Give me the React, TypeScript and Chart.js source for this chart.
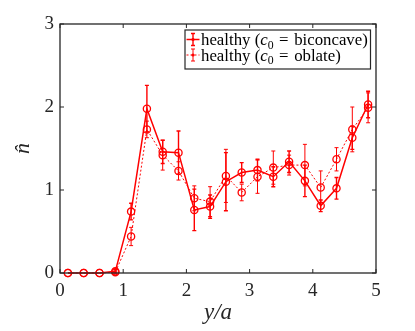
import React, { useEffect, useRef } from "react";
import { Chart, registerables } from "chart.js";

Chart.register(...registerables);

// ---- data ----
const xPositions = [0.125, 0.375, 0.625, 0.875, 1.125, 1.375, 1.625, 1.875, 2.125, 2.375, 2.625, 2.875, 3.125, 3.375, 3.625, 3.875, 4.125, 4.375, 4.625, 4.875];
const biconcaveValues = [0, 0, 0, 0.02, 0.74, 1.98, 1.46, 1.45, 0.76, 0.8, 1.1, 1.21, 1.24, 1.16, 1.34, 1.11, 0.81, 1.02, 1.63, 2.03];
const biconcaveErrors = [0, 0, 0, 0.02, 0.1, 0.28, 0.14, 0.26, 0.25, 0.14, 0.35, 0.12, 0.13, 0.12, 0.13, 0.19, 0.07, 0.13, 0.14, 0.16];
const oblateValues = [0, 0, 0, 0.01, 0.44, 1.73, 1.42, 1.23, 0.9, 0.86, 1.17, 0.97, 1.16, 1.27, 1.3, 1.3, 1.03, 1.37, 1.73, 1.99];
const oblateErrors = [0, 0, 0, 0.01, 0.11, 0.1, 0.18, 0.11, 0.15, 0.18, 0.32, 0.1, 0.2, 0.2, 0.12, 0.25, 0.2, 0.14, 0.27, 0.18];
const seriesLabels = ["biconcave", "oblate"];
const xTicks = [0, 1, 2, 3, 4, 5];
const yTicks = [0, 1, 2, 3];

const RED = "#ff0000";
const AXIS = "#262626";
const SERIF = '"Liberation Serif", "DejaVu Serif", serif';

const seriesStyles = [
  { width: 1.5, dash: [] as number[], errWidth: 1.4 },
  { width: 1, dash: [2, 2], errWidth: 1 },
];
const seriesErrors = [biconcaveErrors, oblateErrors];

const errorBarPlugin = {
  id: "errorBars",
  afterDatasetsDraw(chart: any) {
    const ctx = chart.ctx;
    const xs = chart.scales.x;
    const ys = chart.scales.y;
    chart.data.datasets.forEach((ds: any, di: number) => {
      const errs = seriesErrors[di];
      ctx.save();
      ctx.strokeStyle = RED;
      ctx.lineWidth = seriesStyles[di].errWidth;
      ds.data.forEach((p: any, i: number) => {
        const e = errs[i];
        if (!e) return;
        const px = xs.getPixelForValue(p.x);
        const top = ys.getPixelForValue(p.y + e);
        const bot = ys.getPixelForValue(p.y - e);
        ctx.beginPath();
        ctx.moveTo(px, top);
        ctx.lineTo(px, bot);
        ctx.moveTo(px - 2, top);
        ctx.lineTo(px + 2, top);
        ctx.moveTo(px - 2, bot);
        ctx.lineTo(px + 2, bot);
        ctx.stroke();
      });
      ctx.restore();
    });
  },
};

const frameAndLegendPlugin = {
  id: "frameLegend",
  afterDraw(chart: any) {
    const ctx = chart.ctx;
    const a = chart.chartArea;
    const xs = chart.scales.x;
    const ys = chart.scales.y;
    ctx.save();
    // box
    ctx.strokeStyle = AXIS;
    ctx.lineWidth = 1.3;
    ctx.strokeRect(a.left, a.top, a.right - a.left, a.bottom - a.top);
    // inward ticks
    ctx.lineWidth = 1;
    const tl = 4;
    ctx.beginPath();
    xTicks.forEach((v) => {
      const px = xs.getPixelForValue(v);
      ctx.moveTo(px, a.bottom);
      ctx.lineTo(px, a.bottom - tl);
      ctx.moveTo(px, a.top);
      ctx.lineTo(px, a.top + tl);
    });
    yTicks.forEach((v) => {
      const py = ys.getPixelForValue(v);
      ctx.moveTo(a.left, py);
      ctx.lineTo(a.left + tl, py);
      ctx.moveTo(a.right, py);
      ctx.lineTo(a.right - tl, py);
    });
    ctx.stroke();

    // legend
    const boxRight = a.right - 5.5;
    const boxTop = a.top + 6;
    const boxLeft = boxRight - 185.5;
    const boxH = 39;
    ctx.fillStyle = "#ffffff";
    ctx.fillRect(boxLeft, boxTop, boxRight - boxLeft, boxH);
    ctx.strokeStyle = AXIS;
    ctx.lineWidth = 1.2;
    ctx.strokeRect(boxLeft, boxTop, boxRight - boxLeft, boxH);

    const targetWidth = 167;
    const parts = (label: string, size: number) => [
      { t: "healthy (", f: `${size}px ${SERIF}`, dy: 0 },
      { t: "c", f: `italic ${size}px ${SERIF}`, dy: 0 },
      { t: "0", f: `${size * 0.7}px ${SERIF}`, dy: size * 0.22 },
      { t: " = ", f: `${size}px ${SERIF}`, dy: 0, pad: size * 0.08 },
      { t: label + ")", f: `${size}px ${SERIF}`, dy: 0 },
    ];
    const measure = (label: string, size: number) => {
      let w = 0;
      parts(label, size).forEach((p: any) => {
        ctx.font = p.f;
        w += ctx.measureText(p.t).width + (p.pad ? 2 * p.pad : 0);
      });
      return w;
    };
    const size = 15 * (targetWidth / measure(seriesLabels[0], 15));
    const baselines = [boxTop + 15, boxTop + 30.5];
    seriesLabels.forEach((label, i) => {
      const base = baselines[i];
      const cy = base - 5.5;
      const sx0 = boxLeft + 1.5;
      const sx1 = boxLeft + 14.5;
      const cx = (sx0 + sx1) / 2;
      ctx.strokeStyle = RED;
      ctx.lineWidth = seriesStyles[i].width;
      ctx.setLineDash(seriesStyles[i].dash);
      ctx.beginPath();
      ctx.moveTo(sx0, cy);
      ctx.lineTo(sx1, cy);
      ctx.stroke();
      ctx.setLineDash([]);
      ctx.lineWidth = seriesStyles[i].errWidth;
      ctx.beginPath();
      ctx.moveTo(cx, cy - 6);
      ctx.lineTo(cx, cy + 6);
      ctx.moveTo(cx - 2, cy - 6);
      ctx.lineTo(cx + 2, cy - 6);
      ctx.moveTo(cx - 2, cy + 6);
      ctx.lineTo(cx + 2, cy + 6);
      ctx.stroke();
      ctx.fillStyle = RED;
      ctx.beginPath();
      ctx.arc(cx, cy, 1.6, 0, Math.PI * 2);
      ctx.fill();

      let x = boxLeft + 16;
      ctx.fillStyle = "#000000";
      ctx.textBaseline = "alphabetic";
      ctx.textAlign = "left";
      parts(label, size).forEach((p: any) => {
        ctx.font = p.f;
        if (p.pad) x += p.pad;
        ctx.fillText(p.t, x, base + p.dy);
        x += ctx.measureText(p.t).width;
        if (p.pad) x += p.pad;
      });
    });
    ctx.restore();
  },
};

export default function App() {
  const ref = useRef<HTMLCanvasElement | null>(null);
  useEffect(() => {
    document.body.style.margin = "0";
    const canvas = ref.current;
    if (!canvas) return;
    const makeData = (vals: number[]) => xPositions.map((x, i) => ({ x, y: vals[i] }));
    const chart = new Chart(canvas, {
      type: "line",
      data: {
        datasets: [
          {
            label: "healthy (c0 = biconcave)",
            data: makeData(biconcaveValues),
            borderColor: RED,
            borderWidth: seriesStyles[0].width,
            borderDash: seriesStyles[0].dash,
            pointStyle: "circle",
            pointRadius: 3.6,
            pointBorderWidth: 1.3,
            pointBorderColor: RED,
            pointBackgroundColor: "rgba(0,0,0,0)",
            fill: false,
            tension: 0,
            clip: false,
          },
          {
            label: "healthy (c0 = oblate)",
            data: makeData(oblateValues),
            borderColor: RED,
            borderWidth: seriesStyles[1].width,
            borderDash: seriesStyles[1].dash,
            pointStyle: "circle",
            pointRadius: 3.6,
            pointBorderWidth: 1.3,
            pointBorderColor: RED,
            pointBackgroundColor: "rgba(0,0,0,0)",
            fill: false,
            tension: 0,
            clip: false,
          },
        ],
      },
      options: {
        responsive: false,
        animation: false,
        devicePixelRatio: 1,
        layout: { padding: { left: 0, top: 24, right: 39, bottom: 0 } },
        plugins: { legend: { display: false }, tooltip: { enabled: false } },
        scales: {
          x: {
            type: "linear",
            min: 0,
            max: 5,
            afterBuildTicks: (s: any) => {
              s.ticks = xTicks.map((v) => ({ value: v }));
            },
            afterFit: (s: any) => {
              s.height = 58;
            },
            ticks: {
              color: AXIS,
              font: { family: SERIF, size: 19 },
              padding: 7,
              maxRotation: 0,
            },
            grid: { display: false, drawTicks: false },
            border: { display: false },
            title: {
              display: true,
              text: "y/a",
              color: AXIS,
              font: { family: SERIF, size: 23, style: "italic" },
              padding: { top: 0, bottom: 4 },
            },
          },
          y: {
            type: "linear",
            min: 0,
            max: 3,
            afterBuildTicks: (s: any) => {
              s.ticks = yTicks.map((v) => ({ value: v }));
            },
            afterFit: (s: any) => {
              s.width = 60;
            },
            ticks: {
              color: AXIS,
              font: { family: SERIF, size: 19 },
              padding: 6,
            },
            grid: { display: false, drawTicks: false },
            border: { display: false },
            title: {
              display: true,
              text: "n\u0302",
              color: AXIS,
              font: { family: SERIF, size: 22, style: "italic" },
              padding: { top: 10, bottom: 0 },
            },
          },
        },
      },
      plugins: [errorBarPlugin, frameAndLegendPlugin],
    });
    return () => chart.destroy();
  }, []);
  return (
    <div style={{ width: 415, height: 331, background: "#ffffff" }}>
      <canvas ref={ref} width={415} height={331} style={{ display: "block", width: 415, height: 331 }} />
    </div>
  );
}
